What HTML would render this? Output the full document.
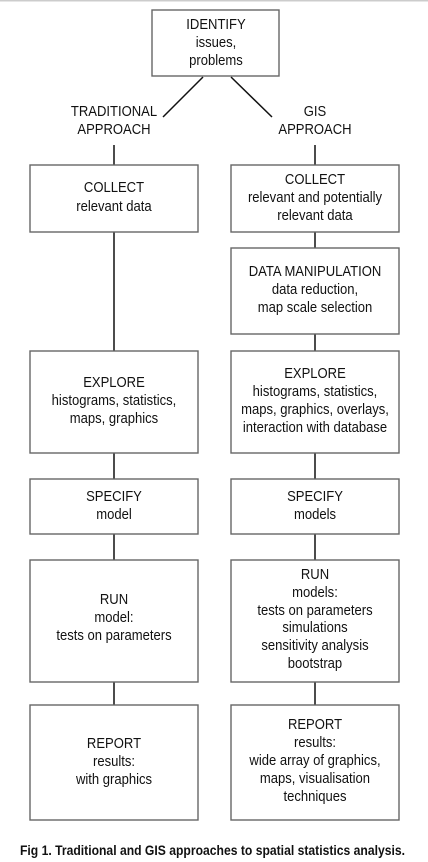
<!DOCTYPE html>
<html><head><meta charset="utf-8"><style>
html,body{margin:0;padding:0;background:#fff;}
svg{display:block}
text{font-family:"Liberation Sans Narrow","Liberation Sans",sans-serif;font-size:14.5px;fill:#111;text-anchor:middle;}
.cap{font-weight:bold;font-size:14px;text-anchor:start;}
rect{fill:#fff;stroke:#666;stroke-width:1.4}
line{stroke:#111;stroke-width:1.5}
</style></head><body>
<svg width="428" height="862" viewBox="0 0 428 862">
<rect x="0" y="0" width="428" height="1.5" style="fill:#ccc;stroke:none"/>
<line x1="203" y1="77" x2="163" y2="117"/>
<line x1="231" y1="77" x2="272" y2="117"/>
<line x1="114" y1="145" x2="114" y2="705"/>
<line x1="315" y1="145" x2="315" y2="705"/>
<rect x="152" y="10" width="127" height="66"/>
<rect x="30" y="165" width="168" height="67"/>
<rect x="231" y="165" width="168" height="67"/>
<rect x="231" y="248" width="168" height="86"/>
<rect x="30" y="351" width="168" height="102"/>
<rect x="231" y="351" width="168" height="102"/>
<rect x="30" y="479" width="168" height="55"/>
<rect x="231" y="479" width="168" height="55"/>
<rect x="30" y="560" width="168" height="122"/>
<rect x="231" y="560" width="168" height="122"/>
<rect x="30" y="705" width="168" height="115"/>
<rect x="231" y="705" width="168" height="115"/>

<g transform="matrix(0.9,0,0,1,21.6,0)">
<text x="216" y="29">IDENTIFY</text>
<text x="216" y="47">issues,</text>
<text x="216" y="65">problems</text>
</g>
<g transform="matrix(0.9,0,0,1,11.4,0)">
<text x="114" y="116">TRADITIONAL</text>
<text x="114" y="134">APPROACH</text>
<text x="114" y="192">COLLECT</text>
<text x="114" y="211">relevant data</text>
<text x="114" y="387">EXPLORE</text>
<text x="114" y="405">histograms, statistics,</text>
<text x="114" y="423">maps, graphics</text>
<text x="114" y="501">SPECIFY</text>
<text x="114" y="519">model</text>
<text x="114" y="604">RUN</text>
<text x="114" y="622">model:</text>
<text x="114" y="640">tests on parameters</text>
<text x="114" y="748">REPORT</text>
<text x="114" y="766">results:</text>
<text x="114" y="784">with graphics</text>
</g>
<g transform="matrix(0.9,0,0,1,31.5,0)">
<text x="315" y="116">GIS</text>
<text x="315" y="134">APPROACH</text>
<text x="315" y="184">COLLECT</text>
<text x="315" y="202">relevant and potentially</text>
<text x="315" y="220">relevant data</text>
<text x="315" y="276">DATA MANIPULATION</text>
<text x="315" y="294">data reduction,</text>
<text x="315" y="312">map scale selection</text>
<text x="315" y="378">EXPLORE</text>
<text x="315" y="396">histograms, statistics,</text>
<text x="315" y="414">maps, graphics, overlays,</text>
<text x="315" y="432">interaction with database</text>
<text x="315" y="501">SPECIFY</text>
<text x="315" y="519">models</text>
<text x="315" y="579">RUN</text>
<text x="315" y="597">models:</text>
<text x="315" y="615">tests on parameters</text>
<text x="315" y="632">simulations</text>
<text x="315" y="650">sensitivity analysis</text>
<text x="315" y="668">bootstrap</text>
<text x="315" y="729">REPORT</text>
<text x="315" y="747">results:</text>
<text x="315" y="765">wide array of graphics,</text>
<text x="315" y="783">maps, visualisation</text>
<text x="315" y="801">techniques</text>
</g>

<text class="cap" x="20" y="855" textLength="385" lengthAdjust="spacingAndGlyphs">Fig 1.  Traditional and GIS approaches to spatial statistics analysis.</text>
</svg>
</body></html>
